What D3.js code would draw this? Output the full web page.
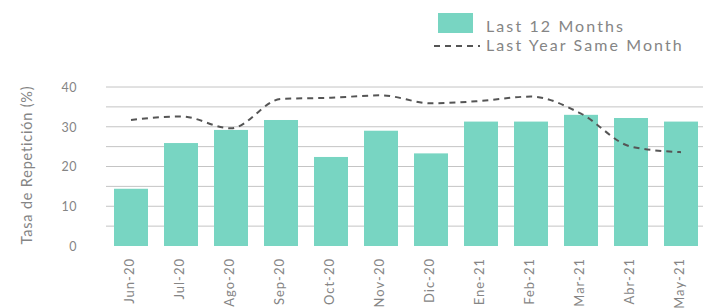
<!DOCTYPE html>
<html>
<head>
<meta charset="utf-8">
<script src="https://cdn.jsdelivr.net/npm/d3@7"></script>
<style>
  html, body { margin: 0; padding: 0; background: #fff; }
  svg { display: block; }
  text { font-family: Lato, "Open Sans", sans-serif; fill: #858585; }
</style>
</head>
<body>
<svg id="chart" width="703" height="308"></svg>
<script>
const categories = ["Jun-20","Jul-20","Ago-20","Sep-20","Oct-20","Nov-20","Dic-20","Ene-21","Feb-21","Mar-21","Abr-21","May-21"];
const last12Months = [14.4, 25.9, 29.2, 31.7, 22.4, 29.0, 23.3, 31.3, 31.3, 33.0, 32.2, 31.3];
const lastYearSameMonth = [31.7, 32.6, 29.6, 37.0, 37.3, 37.9, 35.9, 36.5, 37.6, 33.3, 25.0, 23.6];
const yTicks = [0, 10, 20, 30, 40];
const gridValues = [5, 10, 15, 20, 25, 30, 35, 40];
const seriesNames = ["Last 12 Months", "Last Year Same Month"];
const yTitle = "Tasa de Repetición (%)";

const svg = d3.select("#chart");
const barColor = "#78d5c2";
const textColor = "#858585";

const x = d3.scaleBand().domain(categories).range([106, 706]).paddingInner(0.32).paddingOuter(0.16);
const y = d3.scaleLinear().domain([0, 40]).range([246, 87]);

// grid
svg.append("g").selectAll("line").data(gridValues).join("line")
  .attr("x1", 106).attr("x2", 703)
  .attr("y1", d => y(d)).attr("y2", d => y(d))
  .attr("stroke", "#c4c4c4").attr("stroke-width", 1);

// bars
svg.append("g").selectAll("rect").data(categories).join("rect")
  .attr("x", d => x(d))
  .attr("width", x.bandwidth())
  .attr("y", (d, i) => y(last12Months[i]))
  .attr("height", (d, i) => y(0) - y(last12Months[i]))
  .attr("fill", barColor);

// line
const line = d3.line()
  .x((d, i) => x(categories[i]) + x.bandwidth() / 2)
  .y(d => y(d))
  .curve(d3.curveMonotoneX);
svg.append("path").datum(lastYearSameMonth)
  .attr("d", line)
  .attr("fill", "none")
  .attr("stroke", "#555")
  .attr("stroke-width", 2)
  .attr("stroke-dasharray", "6,5");

// y axis
const yAxis = d3.axisLeft(y).tickValues(yTicks).tickSize(0).tickPadding(0);
const yg = svg.append("g").attr("transform", "translate(77,0)").call(yAxis);
yg.select(".domain").remove();
yg.selectAll("text").style("font-size", "12.5px").style("letter-spacing", "0.5px").attr("fill", textColor).attr("dy", "0.35em");

// x axis
const xAxis = d3.axisBottom(x).tickSize(0).tickPadding(0);
const xg = svg.append("g").attr("transform", "translate(0,246)").call(xAxis);
xg.select(".domain").remove();
xg.selectAll("text")
  .style("font-size", "13px")
  .style("letter-spacing", "1px")
  .attr("fill", textColor)
  .attr("text-anchor", "end")
  .attr("transform", "rotate(-90)")
  .attr("x", -12)
  .attr("y", -2)
  .attr("dy", "0.35em");

// y title
svg.append("text")
  .attr("transform", "translate(27,165) rotate(-90)")
  .attr("text-anchor", "middle")
  .attr("dy", "0.35em")
  .style("font-size", "14.5px")
  .style("letter-spacing", "0.8px")
  .text(yTitle);

// legend
const lg = svg.append("g");
lg.append("rect").attr("x", 438).attr("y", 13).attr("width", 35).attr("height", 20).attr("fill", barColor);
lg.append("text").attr("x", 486).attr("y", 32).style("font-size", "16px").style("letter-spacing", "2.1px").text(seriesNames[0]);
lg.append("line").attr("x1", 434).attr("x2", 480).attr("y1", 46).attr("y2", 46)
  .attr("stroke", "#555").attr("stroke-width", 2).attr("stroke-dasharray", "6,5");
lg.append("text").attr("x", 486).attr("y", 51).style("font-size", "16px").style("letter-spacing", "2.1px").text(seriesNames[1]);
</script>
</body>
</html>
